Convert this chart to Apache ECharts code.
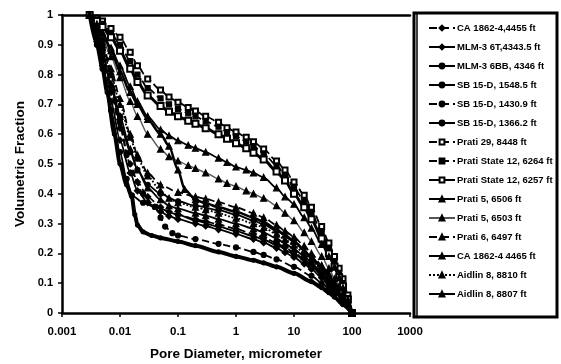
<!DOCTYPE html>
<html><head><meta charset="utf-8">
<script src="https://cdn.jsdelivr.net/npm/echarts@6/dist/echarts.min.js"></script>
<style>html,body{margin:0;padding:0;background:#fff}#c{width:561px;height:364px}</style>
</head><body><div id="c"></div>
<script>
const xTickLabels = ['0.001','0.01','0.1','1','10','100','1000'];
const yTickLabels = ['0','0.1','0.2','0.3','0.4','0.5','0.6','0.7','0.8','0.9','1'];
const seriesNames = ['CA 1862-4,4455 ft','MLM-3 6T,4343.5 ft','MLM-3 6BB, 4346 ft','SB 15-D, 1548.5 ft','SB 15-D, 1430.9 ft','SB 15-D, 1366.2 ft','Prati 29, 8448 ft','Prati State 12, 6264 ft','Prati State 12, 6257 ft','Prati 5, 6506 ft','Prati 5, 6503 ft','Prati 6, 6497 ft','CA 1862-4 4465 ft','Aidlin 8, 8810 ft','Aidlin 8, 8807 ft'];

// [pore diameter (micrometer), volumetric fraction]
const ca4455 = [[0.003,1],[0.004,0.92],[0.005,0.85],[0.007,0.74],[0.01,0.62],[0.015,0.5],[0.02,0.44],[0.03,0.39],[0.05,0.355],[0.07,0.34],[0.1,0.33],[0.2,0.315],[0.3,0.307],[0.5,0.297],[1,0.282],[2,0.265],[3,0.253],[5,0.235],[7,0.22],[10,0.203],[15,0.18],[20,0.16],[30,0.128],[40,0.102],[50,0.08],[70,0.042],[100,0]];
const mlm6T = [[0.003,1],[0.004,0.91],[0.005,0.83],[0.007,0.71],[0.01,0.58],[0.015,0.47],[0.02,0.41],[0.03,0.37],[0.05,0.34],[0.07,0.325],[0.1,0.315],[0.2,0.3],[0.3,0.292],[0.5,0.28],[1,0.265],[2,0.248],[3,0.236],[5,0.218],[7,0.203],[10,0.187],[15,0.165],[20,0.147],[30,0.118],[40,0.094],[50,0.073],[70,0.038],[100,0]];
const mlm6BB = [[0.003,1],[0.004,0.9],[0.005,0.82],[0.006,0.74],[0.008,0.6],[0.01,0.5],[0.013,0.43],[0.016,0.39],[0.018,0.33],[0.02,0.295],[0.025,0.272],[0.035,0.26],[0.05,0.252],[0.1,0.24],[0.2,0.226],[0.5,0.205],[1,0.19],[2,0.177],[3,0.168],[5,0.155],[10,0.133],[20,0.105],[30,0.085],[40,0.068],[50,0.053],[70,0.028],[100,0]];
const sb1548 = [[0.003,1],[0.004,0.9],[0.005,0.82],[0.007,0.68],[0.01,0.54],[0.013,0.45],[0.016,0.395],[0.025,0.37],[0.04,0.356],[0.1,0.33],[0.2,0.31],[0.5,0.29],[1,0.275],[2,0.258],[3,0.246],[5,0.228],[10,0.198],[20,0.158],[30,0.128],[40,0.1],[50,0.078],[70,0.04],[100,0]];
const sb1430 = [[0.003,1],[0.004,0.95],[0.005,0.9],[0.007,0.8],[0.01,0.66],[0.013,0.53],[0.016,0.47],[0.025,0.4],[0.04,0.356],[0.05,0.32],[0.06,0.29],[0.08,0.268],[0.1,0.26],[0.2,0.248],[0.5,0.232],[1,0.22],[2,0.205],[3,0.195],[5,0.18],[10,0.155],[20,0.125],[30,0.1],[40,0.08],[50,0.062],[70,0.032],[100,0]];
const sb1366 = [[0.003,1],[0.004,0.93],[0.005,0.87],[0.007,0.76],[0.01,0.64],[0.015,0.54],[0.02,0.48],[0.03,0.43],[0.05,0.4],[0.1,0.375],[0.2,0.36],[0.5,0.345],[1,0.33],[2,0.31],[3,0.297],[5,0.275],[10,0.24],[20,0.19],[30,0.15],[40,0.12],[50,0.093],[70,0.05],[100,0]];
const prati29 = [[0.003,1],[0.004,0.99],[0.005,0.98],[0.007,0.955],[0.01,0.925],[0.015,0.875],[0.02,0.83],[0.03,0.785],[0.05,0.748],[0.07,0.725],[0.1,0.707],[0.15,0.69],[0.2,0.678],[0.3,0.66],[0.5,0.64],[0.7,0.622],[1,0.607],[1.5,0.59],[2,0.575],[3,0.55],[5,0.51],[7,0.48],[10,0.44],[15,0.395],[20,0.355],[30,0.29],[40,0.235],[50,0.19],[60,0.15],[70,0.115],[85,0.06],[100,0]];
const ps6264 = [[0.003,1],[0.004,0.985],[0.005,0.97],[0.007,0.94],[0.01,0.9],[0.015,0.845],[0.02,0.8],[0.03,0.755],[0.05,0.72],[0.07,0.7],[0.1,0.685],[0.15,0.67],[0.2,0.66],[0.3,0.643],[0.5,0.625],[0.7,0.607],[1,0.593],[1.5,0.575],[2,0.56],[3,0.535],[5,0.495],[7,0.462],[10,0.42],[15,0.375],[20,0.335],[30,0.27],[40,0.215],[50,0.17],[60,0.13],[70,0.1],[85,0.05],[100,0]];
const ps6257 = [[0.003,1],[0.004,0.98],[0.005,0.96],[0.007,0.925],[0.01,0.88],[0.015,0.82],[0.02,0.775],[0.03,0.73],[0.05,0.695],[0.07,0.675],[0.1,0.66],[0.15,0.645],[0.2,0.635],[0.3,0.62],[0.5,0.6],[0.7,0.585],[1,0.57],[1.5,0.553],[2,0.538],[3,0.515],[5,0.475],[7,0.445],[10,0.4],[15,0.355],[20,0.315],[30,0.25],[40,0.2],[50,0.155],[60,0.12],[70,0.09],[85,0.045],[100,0]];
const prati6506 = [[0.003,1],[0.004,0.97],[0.005,0.94],[0.007,0.89],[0.01,0.83],[0.015,0.76],[0.02,0.71],[0.03,0.66],[0.05,0.615],[0.07,0.595],[0.1,0.578],[0.15,0.563],[0.2,0.553],[0.3,0.54],[0.5,0.52],[0.7,0.505],[1,0.49],[1.5,0.48],[2,0.47],[3,0.455],[5,0.42],[7,0.39],[10,0.365],[15,0.32],[20,0.285],[30,0.23],[40,0.19],[50,0.155],[60,0.12],[70,0.085],[85,0.045],[100,0]];
const prati6503 = [[0.003,1],[0.004,0.96],[0.005,0.92],[0.007,0.86],[0.01,0.79],[0.015,0.71],[0.02,0.66],[0.03,0.6],[0.05,0.55],[0.07,0.525],[0.1,0.51],[0.15,0.495],[0.2,0.485],[0.3,0.47],[0.5,0.45],[0.7,0.435],[1,0.425],[1.5,0.41],[2,0.4],[3,0.385],[5,0.36],[7,0.335],[10,0.31],[15,0.27],[20,0.24],[30,0.19],[40,0.15],[50,0.115],[60,0.09],[70,0.065],[85,0.03],[100,0]];
const prati6497 = [[0.003,1],[0.004,0.95],[0.005,0.9],[0.007,0.82],[0.01,0.72],[0.015,0.6],[0.02,0.53],[0.03,0.47],[0.05,0.43],[0.1,0.405],[0.2,0.39],[0.3,0.383],[0.5,0.372],[1,0.355],[2,0.335],[3,0.32],[5,0.295],[7,0.275],[10,0.255],[15,0.225],[20,0.2],[30,0.16],[40,0.13],[50,0.1],[70,0.055],[100,0]];
const ca4465 = [[0.003,1],[0.005,0.94],[0.007,0.88],[0.01,0.81],[0.015,0.74],[0.02,0.7],[0.03,0.65],[0.05,0.6],[0.07,0.56],[0.1,0.48],[0.13,0.415],[0.2,0.38],[0.3,0.368],[0.5,0.355],[1,0.34],[2,0.32],[3,0.305],[5,0.28],[7,0.262],[10,0.24],[15,0.21],[20,0.185],[30,0.15],[40,0.12],[50,0.095],[70,0.05],[100,0]];
const aidlin8810 = [[0.003,1],[0.004,0.94],[0.005,0.89],[0.007,0.8],[0.01,0.7],[0.015,0.59],[0.02,0.52],[0.03,0.46],[0.05,0.41],[0.07,0.385],[0.1,0.37],[0.2,0.355],[0.3,0.347],[0.5,0.335],[1,0.318],[2,0.3],[3,0.287],[5,0.265],[7,0.247],[10,0.228],[15,0.2],[20,0.178],[30,0.143],[40,0.115],[50,0.09],[70,0.048],[100,0]];
const aidlin8807 = [[0.003,1],[0.004,0.93],[0.005,0.87],[0.007,0.77],[0.01,0.66],[0.015,0.55],[0.02,0.48],[0.03,0.42],[0.05,0.38],[0.07,0.36],[0.1,0.35],[0.2,0.335],[0.3,0.327],[0.5,0.315],[1,0.3],[2,0.283],[3,0.27],[5,0.25],[7,0.233],[10,0.215],[15,0.19],[20,0.168],[30,0.135],[40,0.108],[50,0.085],[70,0.045],[100,0]];

const seriesData = [ca4455, mlm6T, mlm6BB, sb1548, sb1430, sb1366, prati29, ps6264, ps6257, prati6506, prati6503, prati6497, ca4465, aidlin8810, aidlin8807];
const styles = [
  {lt:'dashed', lw:1.8, sym:'diamond', ss:6},
  {lt:'solid', lw:1.8, sym:'diamond', ss:6},
  {lt:'solid', lw:4, sym:'circle', ss:4},
  {lt:'solid', lw:1.8, sym:'circle', ss:5},
  {lt:'dashed', lw:1.8, sym:'circle', ss:5},
  {lt:'solid', lw:1.8, sym:'circle', ss:5},
  {lt:'dashed', lw:1.8, sym:'emptyRect', ss:5},
  {lt:'dashed', lw:1.8, sym:'rect', ss:5},
  {lt:'solid', lw:3, sym:'emptyRect', ss:6},
  {lt:'solid', lw:1.8, sym:'triangle', ss:6},
  {lt:'solid', lw:1.4, sym:'triangle', ss:6, c:'#555'},
  {lt:'dashed', lw:1.8, sym:'triangle', ss:6},
  {lt:'solid', lw:2.5, sym:'triangle', ss:6},
  {lt:'dotted', lw:1.8, sym:'triangle', ss:6},
  {lt:'solid', lw:1.8, sym:'triangle', ss:6}
];

const chart = echarts.init(document.getElementById('c'), null, {renderer:'canvas'});
const FONT = 'Liberation Sans';
const series = seriesNames.map((n,i)=>({
  name:n, type:'line', data:seriesData[i], smooth:0.25, smoothMonotone:'x',
  symbol:styles[i].sym, symbolSize:styles[i].ss, showAllSymbol:true,
  lineStyle:{color:styles[i].c||'#000', width:styles[i].lw, type:styles[i].lt},
  itemStyle:{color:'#000', borderColor:'#000', borderWidth:1.2},
  emphasis:{disabled:true}, z:2
}));
chart.setOption({
  animation:false,
  backgroundColor:'#fff',
  grid:{left:62, right:151, top:15, bottom:51, outerBoundsMode:'none', containLabel:false},
  xAxis:[{
    type:'log', logBase:10, min:0.001, max:1000,
    name:'Pore Diameter, micrometer', nameLocation:'middle', nameGap:34,
    nameTextStyle:{fontFamily:FONT, fontWeight:'bold', fontSize:13.5, color:'#000'},
    axisLine:{lineStyle:{color:'#000', width:2.5}},
    axisTick:{length:4, lineStyle:{color:'#000', width:1.5}},
    axisLabel:{margin:13, fontFamily:FONT, fontWeight:'bold', fontSize:11.5, color:'#000',
      formatter:v=>xTickLabels[Math.round(Math.log10(v))+3]},
    splitLine:{show:false}, minorTick:{show:false}
  },{
    type:'log', logBase:10, min:0.001, max:1000, position:'top',
    axisLine:{lineStyle:{color:'#000', width:2.5}},
    axisTick:{show:false}, axisLabel:{show:false}, splitLine:{show:false}
  }],
  yAxis:{
    type:'value', min:0, max:1, interval:0.1,
    name:'Volumetric Fraction', nameLocation:'middle', nameGap:35, nameRotate:90,
    nameTextStyle:{fontFamily:FONT, fontWeight:'bold', fontSize:13.5, color:'#000'},
    axisLine:{show:true, lineStyle:{color:'#000', width:2.5}},
    axisTick:{length:4, lineStyle:{color:'#000', width:1.5}},
    axisLabel:{margin:9, fontFamily:FONT, fontWeight:'bold', fontSize:11, color:'#000',
      formatter:v=>yTickLabels[Math.round(v*10)]},
    splitLine:{show:false}
  },
  legend:{
    orient:'vertical', left:423, top:18, itemWidth:26, itemHeight:6, itemGap:9,
    data:seriesNames,
    textStyle:{fontFamily:FONT, fontWeight:'bold', fontSize:9.5, color:'#000', lineHeight:10, padding:[0,0,0,-3]},
    selectedMode:false
  },
  graphic:[
    {type:'rect', shape:{x:414, y:13, width:143, height:304}, style:{fill:null, stroke:'#000', lineWidth:3}, z:10},
    {type:'line', shape:{x1:417, y1:13, x2:417, y2:317}, style:{stroke:'#000', lineWidth:1.5}, z:10}
  ],
  series:series
});
</script></body></html>
